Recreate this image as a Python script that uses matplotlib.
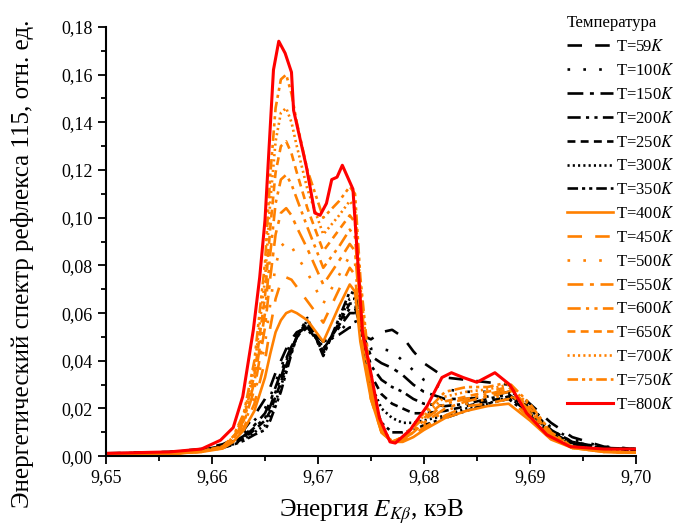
import matplotlib
matplotlib.use('Agg')
import matplotlib.pyplot as plt
from matplotlib.ticker import MultipleLocator, FuncFormatter

plt.rcParams['font.family'] = ['Liberation Serif', 'DejaVu Serif']
plt.rcParams['mathtext.fontset'] = 'stix'

# общая сетка энергий, кэВ
E = [9.650, 9.656, 9.659, 9.661, 9.662, 9.663, 9.664, 9.665, 9.6655, 9.666,
     9.6665, 9.667, 9.6675, 9.668, 9.669, 9.6705, 9.672, 9.673, 9.6735, 9.674,
     9.675, 9.676, 9.677, 9.678, 9.679, 9.680, 9.682, 9.684, 9.686, 9.688,
     9.690, 9.692, 9.694, 9.697, 9.700]

I59 = [.0012, .0018, .003, .005, .007, .011, .017, .024, .029, .035, .040, .045, .049, .052, .054,
       .048, .051, .054, .054, .051, .049, .052, .053, .050, .044, .039, .033, .032, .031, .030,
       .022, .014, .008, .004, .003]
I100 = [.0011, .0017, .0028, .0045, .0063, .0095, .015, .020, .025, .031, .037, .043, .048, .051, .053,
        .046, .052, .057, .057, .052, .045, .045, .044, .040, .036, .032, .028, .027, .027, .028,
        .021, .012, .007, .004, .003]
I150 = [.0011, .0017, .0027, .0042, .0058, .0085, .013, .018, .023, .029, .035, .041, .046, .050, .054,
        .045, .054, .060, .060, .054, .042, .039, .037, .034, .030, .027, .024, .024, .025, .027,
        .020, .011, .006, .0035, .003]
I200 = [.0011, .0016, .0026, .004, .0055, .008, .012, .016, .021, .027, .033, .040, .045, .050, .055,
        .045, .055, .062, .062, .055, .038, .032, .029, .027, .024, .022, .021, .022, .024, .026,
        .019, .011, .006, .0035, .003]
I250 = [.0010, .0016, .0025, .0038, .0052, .0075, .011, .015, .019, .025, .031, .038, .044, .050, .056,
        .044, .056, .064, .064, .056, .034, .026, .022, .020, .018, .018, .019, .021, .023, .025,
        .018, .010, .0055, .0033, .0028]
I300 = [.0010, .0015, .0024, .0036, .0050, .0070, .010, .013, .017, .023, .029, .037, .044, .050, .057,
        .043, .057, .066, .066, .057, .030, .020, .016, .014, .014, .015, .017, .020, .022, .025,
        .018, .010, .005, .003, .0027]
I350 = [.0010, .0015, .0023, .0035, .0048, .0065, .009, .011, .015, .021, .027, .035, .043, .050, .058,
        .042, .058, .069, .068, .058, .026, .014, .010, .010, .011, .013, .016, .019, .022, .024,
        .017, .009, .005, .003, .0026]
I400 = [.0006, .0010, .0018, .0032, .0060, .011, .019, .033, .043, .052, .057, .060, .061, .060, .057,
        .048, .063, .072, .069, .048, .024, .010, .006, .006, .008, .011, .016, .019, .021, .022,
        .015, .007, .0035, .0018, .0015]
I450 = [.0006, .0010, .0018, .0034, .0065, .012, .022, .040, .054, .066, .073, .075, .074, .071, .065,
        .056, .070, .079, .076, .052, .024, .010, .006, .0065, .009, .012, .017, .021, .022, .024,
        .016, .008, .0035, .0018, .0015]
I500 = [.0006, .0010, .0019, .0036, .0070, .013, .025, .047, .064, .080, .088, .090, .088, .084, .077,
        .064, .076, .084, .081, .056, .025, .010, .006, .007, .010, .013, .019, .022, .024, .026,
        .017, .008, .0035, .0018, .0015]
I550 = [.0006, .0010, .0019, .0037, .0072, .014, .028, .054, .075, .093, .102, .104, .101, .096, .087,
        .072, .082, .089, .086, .059, .026, .010, .006, .007, .010, .014, .020, .023, .025, .027,
        .018, .008, .0035, .0018, .0015]
I600 = [.0006, .0010, .0020, .0038, .0075, .015, .031, .060, .085, .106, .116, .118, .114, .108, .096,
        .079, .088, .095, .092, .063, .027, .011, .006, .007, .011, .015, .022, .024, .026, .028,
        .019, .009, .004, .002, .0015]
I650 = [.0006, .0010, .0020, .0039, .0078, .016, .034, .067, .096, .119, .130, .132, .127, .119, .104,
        .086, .095, .101, .098, .067, .028, .011, .006, .008, .012, .016, .023, .025, .027, .029,
        .020, .009, .004, .002, .0015]
I700 = [.0006, .0010, .0021, .0040, .0080, .017, .037, .074, .107, .132, .144, .146, .140, .130, .112,
        .093, .101, .107, .104, .071, .029, .012, .006, .008, .012, .017, .025, .027, .028, .030,
        .021, .010, .004, .002, .0015]
I750 = [.0006, .0010, .0021, .0041, .0083, .018, .040, .081, .118, .146, .158, .160, .152, .140, .120,
        .100, .107, .113, .110, .075, .030, .012, .006, .008, .013, .018, .027, .029, .029, .031,
        .022, .010, .004, .002, .0015]

# T=800K - своя сетка
E800 = [9.650, 9.656, 9.659, 9.6608, 9.662, 9.6629, 9.6634, 9.6639, 9.6645, 9.665, 9.6658,
        9.6663, 9.6669, 9.6675, 9.6677, 9.6689, 9.6697, 9.6702, 9.6708, 9.6713, 9.6718,
        9.6723, 9.6728, 9.6733, 9.6738, 9.6742, 9.6749, 9.6758, 9.6768, 9.6773, 9.6787,
        9.6803, 9.6817, 9.6826, 9.6837, 9.685, 9.6867, 9.6881, 9.6897, 9.6916, 9.6938,
        9.697, 9.700]
I800 = [.0012, .0018, .003, .0067, .012, .025, .039, .053, .075, .099, .162,
        .174, .169, .161, .145, .1215, .102, .101, .106, .116, .117,
        .122, .117, .112, .079, .052, .037, .016, .006, .0055, .011,
        .021, .033, .035, .033, .031, .035, .030, .018, .009, .004,
        .003, .003]

black_series = [(59, I59), (100, I100), (150, I150), (200, I200),
                (250, I250), (300, I300), (350, I350)]
orange_series = [(400, I400), (450, I450), (500, I500), (550, I550),
                 (600, I600), (650, I650), (700, I700), (750, I750)]

styles = ['-', (0, (5.5, 5)), (0, (1, 5)), (0, (6, 2.5, 1.5, 2.5)),
          (0, (5, 2, 1.2, 2, 1.2, 2)), (0, (3, 2)), (0, (0.8, 1.2)),
          (0, (4, 1.5, 1.2, 1.5, 1.2, 1.5))]

fig = plt.figure(figsize=(6.8, 5.28), dpi=100)
ax = fig.add_axes([0.156, 0.136, 0.779, 0.813])

for k, (T, I) in enumerate(black_series):
    ax.plot(E, I, color='black', lw=1.9, ls=styles[k + 1], label=f'T={T}$K$')
for k, (T, I) in enumerate(orange_series):
    ax.plot(E, I, color='#FF8000', lw=1.9, ls=styles[k], label=f'T={T}$K$')
ax.plot(E800, I800, color='#FF0000', lw=2.2, label='T=800$K$')

ax.set_xlim(9.65, 9.70)
ax.set_ylim(0, 0.18)
ax.xaxis.set_major_locator(MultipleLocator(0.01))
ax.xaxis.set_minor_locator(MultipleLocator(0.005))
ax.yaxis.set_major_locator(MultipleLocator(0.02))
ax.yaxis.set_minor_locator(MultipleLocator(0.01))
ax.xaxis.set_major_formatter(FuncFormatter(lambda v, p: f'{v:.2f}'.replace('.', ',')))
ax.yaxis.set_major_formatter(FuncFormatter(lambda v, p: f'{v:.2f}'.replace('.', ',')))
ax.tick_params(which='major', length=6, width=1.3, labelsize=13, direction='out')
ax.tick_params(which='minor', length=3.5, width=1.3, direction='out')
ax.spines['top'].set_visible(False)
ax.spines['right'].set_visible(False)
for s in ['left', 'bottom']:
    ax.spines[s].set_linewidth(1.5)

ax.set_xlabel('Энергия $E_{K\\beta}$, кэВ', fontsize=18, labelpad=8)
ax.set_ylabel('Энергетический спектр рефлекса 115, отн. ед.', fontsize=18)
ax.yaxis.set_label_coords(-0.136, 0.448)

leg = fig.legend(loc='upper left', bbox_to_anchor=(0.816, 0.993), frameon=False,
                 fontsize=12, title='Температура', title_fontsize=12,
                 handlelength=2.8, handletextpad=0.15, labelspacing=0.47,
                 borderpad=0.2, alignment='left')

fig.savefig('out.png', dpi=100)
